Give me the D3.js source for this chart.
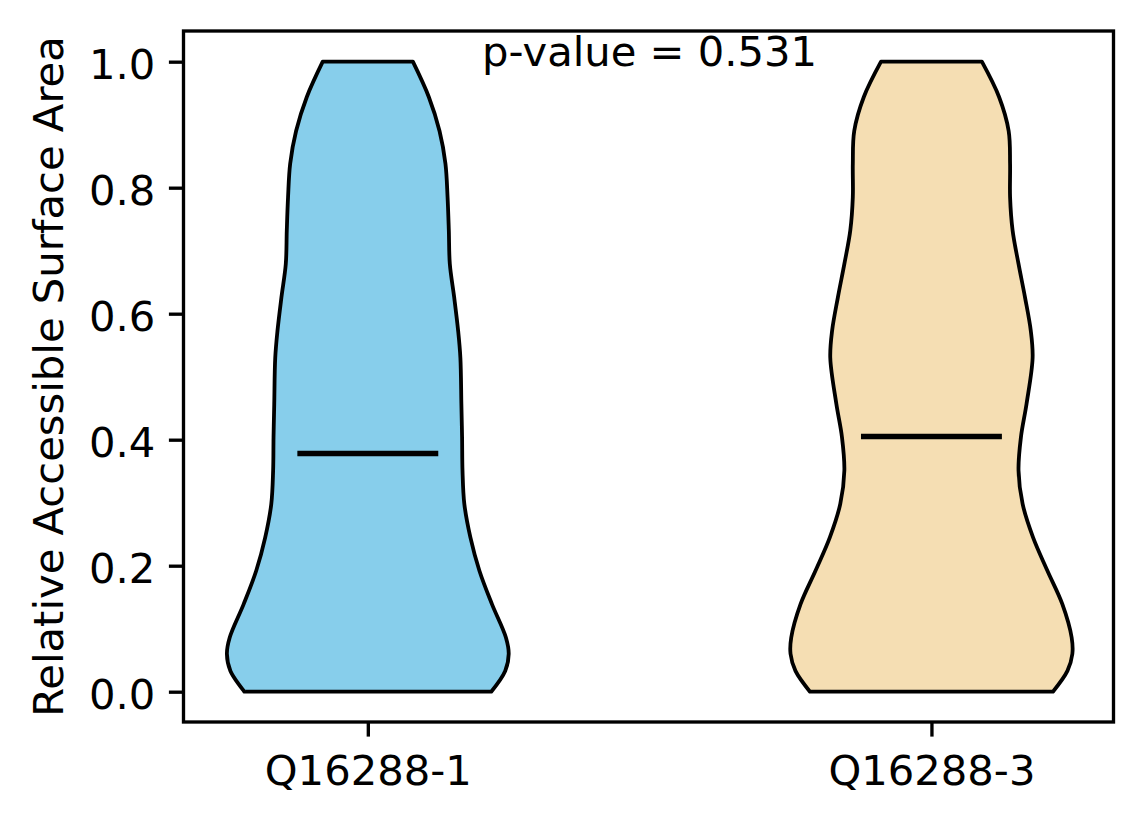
<!DOCTYPE html>
<html>
<head>
<meta charset="utf-8">
<title>Relative accessible surface area violins</title>
<script src="https://d3js.org/d3.v7.min.js"></script>
<style>
  body { margin: 0; background: #fff; }
  svg text { font-family: "DejaVu Sans", sans-serif; fill: #000; }
</style>
</head>
<body>
<div id="chart"></div>
<script>
// data
var categories = ["Q16288-1", "Q16288-3"];
var positions = [1, 2];
var medians = [0.378, 0.405];
var levels = [0, 0.033, 0.06, 0.086, 0.139, 0.192, 0.245, 0.298, 0.351, 0.404,
              0.457, 0.53, 0.573, 0.626, 0.679, 0.732, 0.785, 0.838, 0.89, 0.944, 1.0];
// scaled density (1 = widest) at each level
var densityQ1 = [0.876, 0.975, 1.0, 0.98, 0.881, 0.792, 0.728, 0.685, 0.672, 0.669,
                 0.664, 0.657, 0.641, 0.613, 0.582, 0.575, 0.566, 0.551, 0.509, 0.433, 0.32];
var densityQ3 = [0.862, 0.965, 1.0, 0.995, 0.929, 0.823, 0.721, 0.647, 0.618, 0.635,
                 0.675, 0.718, 0.705, 0.664, 0.618, 0.576, 0.558, 0.558, 0.548, 0.48, 0.358];
var yTicks = [0, 0.2, 0.4, 0.6, 0.8, 1.0];
var pText = "p-value = 0.531";

var fills = ["#87ceeb", "#f5deb3"];
var densities = [densityQ1, densityQ3];

var W = 1144, H = 824;
var mLeft = 183.5, mRight = 1113.5, mTop = 31, mBottom = 722;
var fs = 41.7, tickLen = 14.6, pad = 14.6;

var svg = d3.select("#chart").append("svg")
    .attr("width", W).attr("height", H);

var x = d3.scaleLinear().domain([0.673, 2.323]).range([mLeft, mRight]);
var y = d3.scaleLinear().domain([-0.0481, 1.0487]).range([mBottom, mTop]);

// violins
positions.forEach(function(p, i) {
    var pts = levels.map(function(l, j) { return {v: l, d: densities[i][j]}; });
    var area = d3.area()
        .curve(d3.curveCatmullRom)
        .y(function(d) { return y(d.v); })
        .x0(function(d) { return x(p - 0.25 * d.d); })
        .x1(function(d) { return x(p + 0.25 * d.d); });
    svg.append("path")
        .attr("d", area(pts))
        .attr("fill", fills[i])
        .attr("stroke", "#000")
        .attr("stroke-width", 3.8)
        .attr("stroke-linejoin", "round");

    svg.append("line")
        .attr("x1", x(p - 0.125)).attr("x2", x(p + 0.125))
        .attr("y1", y(medians[i])).attr("y2", y(medians[i]))
        .attr("stroke", "#000")
        .attr("stroke-width", 5.5);
});

// axes
var yAxis = d3.axisLeft(y).tickValues(yTicks).tickFormat(d3.format(".1f"))
    .tickSize(tickLen).tickPadding(pad);
var gy = svg.append("g").attr("transform", "translate(" + mLeft + ",0)").call(yAxis);

var xAxis = d3.axisBottom(x).tickValues(positions)
    .tickFormat(function(d, i) { return categories[i]; })
    .tickSize(tickLen).tickPadding(pad);
var gx = svg.append("g").attr("transform", "translate(0," + mBottom + ")").call(xAxis);

[gy, gx].forEach(function(g) {
    g.select(".domain").remove();
    g.selectAll(".tick line").attr("stroke", "#000").attr("stroke-width", 3.33);
    g.selectAll(".tick text").style("font-size", fs + "px")
        .style("font-family", "'DejaVu Sans', sans-serif").attr("fill", "#000");
});
gy.selectAll(".tick text").attr("dy", "0.4em").attr("x", -(tickLen + pad - 1));
gx.selectAll(".tick text").attr("dy", null).attr("y", 63);

// frame
svg.append("rect")
    .attr("x", mLeft).attr("y", mTop)
    .attr("width", mRight - mLeft).attr("height", mBottom - mTop)
    .attr("fill", "none").attr("stroke", "#000").attr("stroke-width", 3.33);

// labels
svg.append("text")
    .attr("transform", "translate(63," + ((mTop + mBottom) / 2) + ") rotate(-90)")
    .attr("text-anchor", "middle")
    .style("font-size", fs + "px")
    .text("Relative Accessible Surface Area");

svg.append("text")
    .attr("x", x(1.5)).attr("y", y(1.0) + 4)
    .attr("text-anchor", "middle")
    .style("font-size", fs + "px")
    .text(pText);
</script>
</body>
</html>
